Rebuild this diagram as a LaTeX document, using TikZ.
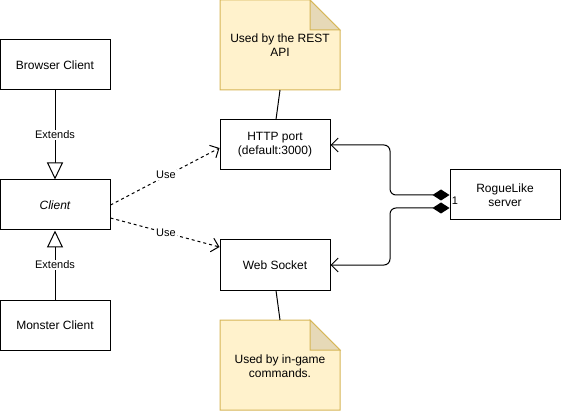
\documentclass[tikz,border=0pt]{standalone}
\usepackage{fontspec}
\setmainfont{Liberation Sans}
\usetikzlibrary{arrows.meta,calc}
\definecolor{notefill}{HTML}{FFF2CC}
\definecolor{notestroke}{HTML}{D6B656}
\definecolor{notefold}{HTML}{E6D9B7}
\tikzset{
  box/.style={draw, line width=1pt, minimum width=110pt, minimum height=50pt, inner sep=0pt, align=center, font=\fontsize{12}{14}\selectfont},
  lbl/.style={fill=white, inner sep=1pt, font=\fontsize{11}{13}\selectfont},
  notetext/.style={align=center, font=\fontsize{12}{14}\selectfont},
  notebody/.style={fill=notefill, draw=notestroke, line width=1pt},
  notefoldst/.style={fill=notefold, draw=notestroke, line width=1pt},
  ext/.style={line width=1pt, -{Triangle[open, length=17pt, width=16pt, fill=white]}},
  usearrow/.style={line width=1pt, dashed, dash pattern=on 3pt off 3pt, -{Straight Barb[length=7pt, width=14pt]}},
  comp/.style={line width=1pt, rounded corners=6pt, {Diamond[length=17pt, width=11pt]}-{Straight Barb[length=7pt, width=14pt]}},
  plain/.style={line width=1pt}
}
\begin{document}
\begin{tikzpicture}[x=1pt, y=-1pt]
\useasboundingbox (0,0) rectangle (561,411);
% class boxes
\node[box] (browser) at (55,65) {Browser Client};
\node[box] (client) at (55,205) {\itshape Client};
\node[box] (monster) at (55,325) {Monster Client};
\node[box] (http) at (275,145) {HTTP port\\(default:3000)};
\node[box] (ws) at (275,265) {Web Socket};
\node[box] (server) at (505,195) {RogueLike\\server};
% notes
\path[notebody] (220,0) -- (310,0) -- (340,30) -- (340,90) -- (220,90) -- cycle;
\path[notefoldst] (310,0) -- (310,30) -- (340,30) -- cycle;
\node[notetext] (note1) at (280,45) {Used by the REST\\API};
\coordinate (note1b) at (280,90);
\path[notebody] (220,320) -- (310,320) -- (340,350) -- (340,410) -- (220,410) -- cycle;
\path[notefoldst] (310,320) -- (310,350) -- (340,350) -- cycle;
\node[notetext] (note2) at (280,366) {Used by in-game\\commands.};
\coordinate (note2t) at (280,320);
% note links
\draw[plain] (note1b) -- ($(http.north)+(1,0)$);
\draw[plain] (note2t) -- ($(ws.south)+(1,0)$);
% extends
\draw[ext] (browser.south) -- (client.north);
\node[lbl] (ext1) at (55,135) {Extends};
\draw[ext] (monster.north) -- (client.south);
\node[lbl] (ext2) at (55,265) {Extends};
% use
\draw[usearrow] ($(client.east)+(0,0)$) -- ($(http.west)+(0,3)$);
\node[lbl] (use1) at (166,175) {Use};
\draw[usearrow] ($(client.east)+(0,13)$) -- ($(ws.west)+(0,-18)$);
\node[lbl] (use2) at (166,233) {Use};
% composition
\draw[comp] (server.west) -- (390,195) -- (390,145) -- (http.east);
\draw[comp] ($(server.west)+(0,13)$) -- (390,208) -- (390,265) -- (ws.east);
\node[font=\fontsize{11}{13}\selectfont, inner sep=0pt] (one) at (455,201) {1};
\end{tikzpicture}
\end{document}
